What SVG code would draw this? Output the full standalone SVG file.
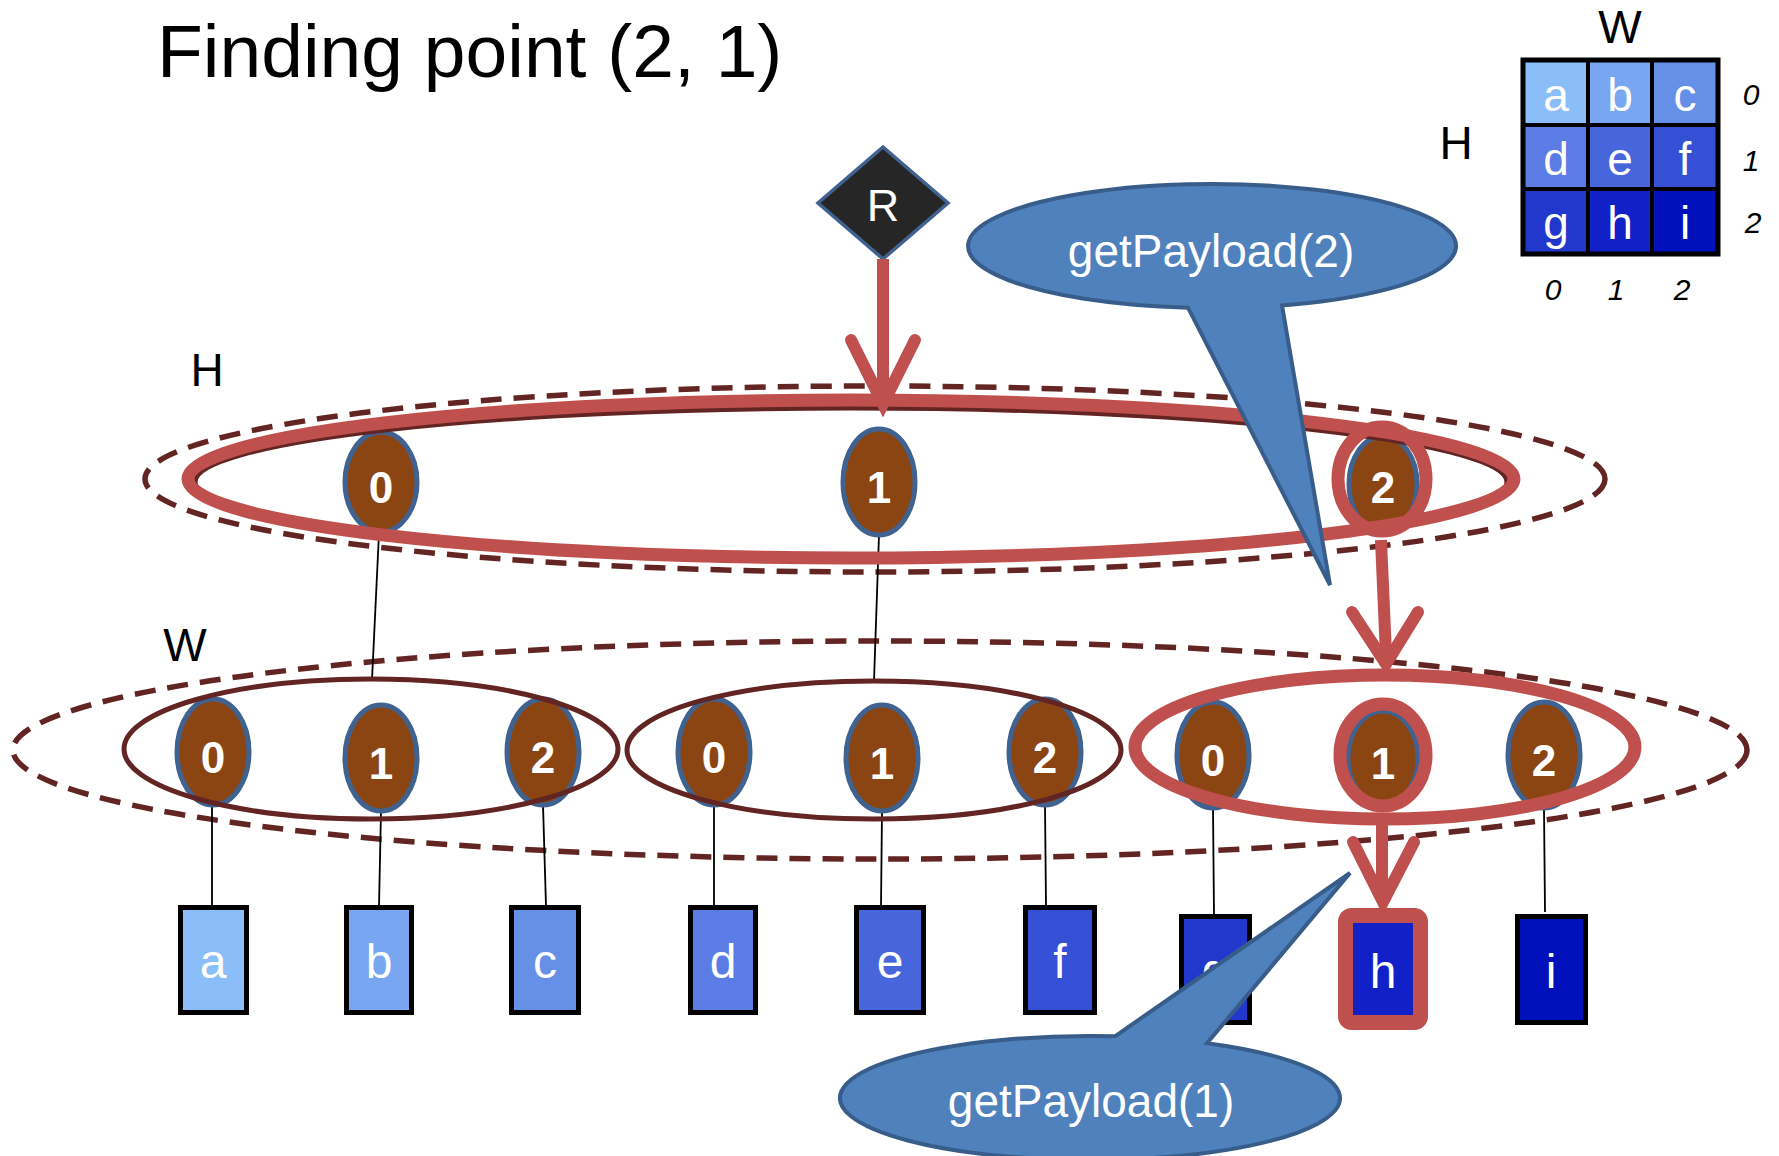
<svg xmlns="http://www.w3.org/2000/svg" width="1779" height="1156" viewBox="0 0 1779 1156">
<defs>
<style>
text{font-family:"Liberation Sans",Arial,sans-serif}
.title{font-size:75px;fill:#000}
.lbl{font-size:46px;fill:#000;text-anchor:middle}
.idx{font-size:30px;font-style:italic;fill:#000;text-anchor:middle}
.cellt{font-size:46px;fill:#fff;text-anchor:middle}
.leaft{font-size:48px;fill:#fff;text-anchor:middle}
.node{fill:#8B4513;stroke:#3F6290;stroke-width:5}
.nodet{font-size:44px;font-weight:bold;fill:#fff;text-anchor:middle}
.dash{fill:none;stroke:#632523;stroke-width:5.5;stroke-dasharray:21 12}
.grp{fill:none;stroke:#632523;stroke-width:5}
.hl{fill:none;stroke:#C0504D;stroke-width:13}
.thin{stroke:#000;stroke-width:1.8;fill:none}
.arr{stroke:#C0504D;stroke-width:12;fill:none;stroke-linecap:round;stroke-linejoin:miter;stroke-miterlimit:10}
.shaft{stroke:#C0504D;stroke-width:12;fill:none}
.leaf{stroke:#000;stroke-width:5}
.call{fill:#4F81BD;stroke:#385D8A;stroke-width:4}
.callt{font-size:46px;fill:#fff;text-anchor:middle}
</style>
</defs>
<rect width="1779" height="1156" fill="#fff"/>

<text class="title" x="157" y="77">Finding point (2, 1)</text>

<g id="matrix">
<text class="lbl" x="1620" y="43">W</text>
<text class="lbl" x="1456" y="159">H</text>
<rect x="1523" y="60" width="65" height="65" fill="#8BBDF9"/>
<rect x="1588" y="60" width="64" height="65" fill="#78A6F0"/>
<rect x="1652" y="60" width="66" height="65" fill="#6690E8"/>
<rect x="1523" y="125" width="65" height="64" fill="#5A7CE4"/>
<rect x="1588" y="125" width="64" height="64" fill="#4866DC"/>
<rect x="1652" y="125" width="66" height="64" fill="#3550D4"/>
<rect x="1523" y="189" width="65" height="65" fill="#2238CC"/>
<rect x="1588" y="189" width="64" height="65" fill="#1220C8"/>
<rect x="1652" y="189" width="66" height="65" fill="#0010BA"/>
<g stroke="#000" stroke-width="4" fill="none">
<rect x="1523" y="60" width="195" height="194" stroke-width="5"/>
<line x1="1588" y1="60" x2="1588" y2="254"/>
<line x1="1652" y1="60" x2="1652" y2="254"/>
<line x1="1523" y1="125" x2="1718" y2="125"/>
<line x1="1523" y1="189" x2="1718" y2="189"/>
</g>
<text class="cellt" x="1556" y="111">a</text>
<text class="cellt" x="1620" y="111">b</text>
<text class="cellt" x="1685" y="111">c</text>
<text class="cellt" x="1556" y="175">d</text>
<text class="cellt" x="1620" y="175">e</text>
<text class="cellt" x="1685" y="175">f</text>
<text class="cellt" x="1556" y="239">g</text>
<text class="cellt" x="1620" y="239">h</text>
<text class="cellt" x="1685" y="239">i</text>
<text class="idx" x="1751" y="105">0</text>
<text class="idx" x="1751" y="171">1</text>
<text class="idx" x="1753" y="233">2</text>
<text class="idx" x="1553" y="300">0</text>
<text class="idx" x="1616" y="300">1</text>
<text class="idx" x="1682" y="300">2</text>
</g>

<text class="lbl" x="207" y="386">H</text>
<text class="lbl" x="185" y="661">W</text>

<g id="level-H-bound"><ellipse class="dash" cx="875" cy="479" rx="730" ry="93"/></g>
<g id="level-W-bound"><ellipse class="dash" cx="880" cy="750" rx="867" ry="109"/></g>

<g id="connectors">
<line class="thin" x1="379" y1="533" x2="372" y2="680"/>
<line class="thin" x1="879" y1="535" x2="874" y2="681"/>
<line class="thin" x1="212" y1="805" x2="212" y2="906"/>
<line class="thin" x1="381" y1="811" x2="379" y2="906"/>
<line class="thin" x1="543" y1="805" x2="546" y2="906"/>
<line class="thin" x1="714" y1="805" x2="714" y2="906"/>
<line class="thin" x1="882" y1="811" x2="881" y2="906"/>
<line class="thin" x1="1045" y1="805" x2="1046" y2="906"/>
<line class="thin" x1="1213" y1="808" x2="1214" y2="915"/>
<line class="thin" x1="1544" y1="808" x2="1545" y2="912"/>
</g>

<g id="node-R">
<polygon points="883,147 948,203 883,259 818,203" fill="#262626" stroke="#3F6290" stroke-width="3.5"/>
<text x="883" y="221" font-size="45" fill="#fff" text-anchor="middle">R</text>
</g>

<g id="node-H0"><ellipse class="node" cx="381" cy="482" rx="36" ry="50"/><text class="nodet" x="381" y="503">0</text></g>
<g id="node-H1"><ellipse class="node" cx="879" cy="482" rx="36" ry="53"/><text class="nodet" x="879" y="503">1</text></g>
<g id="node-H2"><ellipse class="node" cx="1383" cy="484" rx="34" ry="48"/><text class="nodet" x="1383" y="503">2</text></g>

<g id="node-W1-0"><ellipse class="node" cx="213" cy="752" rx="36" ry="53"/><text class="nodet" x="213" y="773">0</text></g>
<g id="node-W1-1"><ellipse class="node" cx="381" cy="758" rx="36" ry="53"/><text class="nodet" x="381" y="779">1</text></g>
<g id="node-W1-2"><ellipse class="node" cx="543" cy="752" rx="36" ry="53"/><text class="nodet" x="543" y="773">2</text></g>
<g id="node-W2-0"><ellipse class="node" cx="714" cy="752" rx="36" ry="53"/><text class="nodet" x="714" y="773">0</text></g>
<g id="node-W2-1"><ellipse class="node" cx="882" cy="758" rx="36" ry="53"/><text class="nodet" x="882" y="779">1</text></g>
<g id="node-W2-2"><ellipse class="node" cx="1045" cy="752" rx="36" ry="53"/><text class="nodet" x="1045" y="773">2</text></g>
<g id="node-W3-0"><ellipse class="node" cx="1213" cy="755" rx="36" ry="53"/><text class="nodet" x="1213" y="776">0</text></g>
<g id="node-W3-1"><ellipse class="node" cx="1383" cy="758" rx="35" ry="47"/><text class="nodet" x="1383" y="779">1</text></g>
<g id="node-W3-2"><ellipse class="node" cx="1544" cy="755" rx="36" ry="53"/><text class="nodet" x="1544" y="776">2</text></g>

<g id="group-H">
<ellipse class="grp" cx="851" cy="482" rx="656" ry="74"/>
<ellipse class="hl" cx="851" cy="479" rx="663" ry="79"/>
</g>
<g id="group-W1"><ellipse class="grp" cx="371" cy="749" rx="247" ry="70"/></g>
<g id="group-W2"><ellipse class="grp" cx="874" cy="750" rx="247" ry="69"/></g>
<g id="group-W3"><ellipse class="hl" cx="1385" cy="747" rx="250" ry="72"/></g>

<g id="highlight-rings">
<ellipse class="hl" cx="1382" cy="479" rx="44" ry="52" stroke-width="15"/>
<ellipse class="hl" cx="1383" cy="755" rx="43" ry="51" stroke-width="14"/>
</g>

<g id="path-arrows">
<line class="shaft" x1="883" y1="259" x2="883" y2="398"/>
<polyline class="arr" points="851,340 883,404 915,340"/>
<line class="shaft" x1="1381" y1="540" x2="1386" y2="655"/>
<polyline class="arr" points="1352,612 1386,664 1418,612"/>
<line class="shaft" x1="1382" y1="814" x2="1382" y2="895"/>
<polyline class="arr" points="1353,842 1383,902 1414,842"/>
</g>

<g id="leaf-a"><rect class="leaf" x="180.5" y="907.5" width="66" height="105" fill="#8BBDF9"/><text class="leaft" x="213" y="978">a</text></g>
<g id="leaf-b"><rect class="leaf" x="346.5" y="907.5" width="65" height="105" fill="#78A6F0"/><text class="leaft" x="379" y="978">b</text></g>
<g id="leaf-c"><rect class="leaf" x="511.5" y="907.5" width="67" height="105" fill="#6690E8"/><text class="leaft" x="545" y="978">c</text></g>
<g id="leaf-d"><rect class="leaf" x="690.5" y="907.5" width="65" height="105" fill="#5A7CE4"/><text class="leaft" x="723" y="978">d</text></g>
<g id="leaf-e"><rect class="leaf" x="856.5" y="907.5" width="67" height="105" fill="#4866DC"/><text class="leaft" x="890" y="978">e</text></g>
<g id="leaf-f"><rect class="leaf" x="1025.5" y="907.5" width="69" height="105" fill="#3550D4"/><text class="leaft" x="1060" y="978">f</text></g>
<g id="leaf-g"><rect class="leaf" x="1181.5" y="916.5" width="68" height="106" fill="#2238CC"/><text class="leaft" x="1215" y="987">g</text></g>
<g id="leaf-h"><rect x="1345.5" y="915.5" width="75" height="107" rx="6" fill="#1220C8" stroke="#C0504D" stroke-width="15"/><text class="leaft" x="1383" y="988">h</text></g>
<g id="leaf-i"><rect class="leaf" x="1517.5" y="916.5" width="68" height="106" fill="#0010BA"/><text class="leaft" x="1551" y="988">i</text></g>

<g id="callout-2">
<path class="call" d="M1188 307.7 L1330 585 L1282 305.4 A244 62 0 1 0 1188 307.7 Z"/>
<text class="callt" x="1211" y="267">getPayload(2)</text>
</g>
<g id="callout-1">
<path class="call" d="M1115 1036.3 L1350 873 L1207 1043.2 A250 62 0 1 1 1115 1036.3 Z"/>
<text class="callt" x="1091" y="1117">getPayload(1)</text>
</g>
</svg>
